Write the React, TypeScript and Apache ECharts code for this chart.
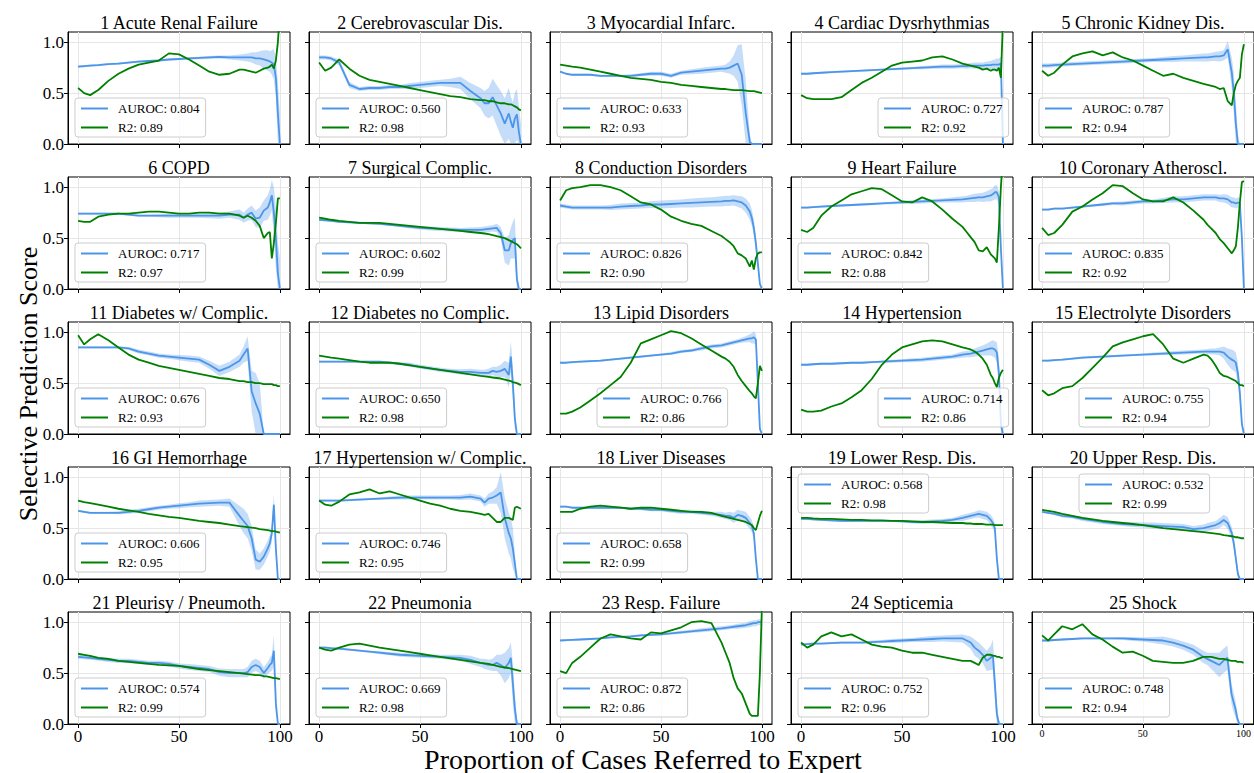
import React, { useEffect, useRef } from "react";
import * as echarts from "echarts";

// ---------------- data ----------------
const X_GRID = [0, 3, 6, 10, 15, 20, 25, 30, 35, 40, 45, 50, 55, 60, 65, 70, 75, 80, 82, 84, 86, 88, 90, 92, 94, 95, 96, 97, 98, 99, 100];
const X_TICKS = [0, 50, 100];
const Y_TICKS = [0, 0.5, 1.0];

const TITLES = [
  "1 Acute Renal Failure", "2 Cerebrovascular Dis.", "3 Myocardial Infarc.", "4 Cardiac Dysrhythmias", "5 Chronic Kidney Dis.",
  "6 COPD", "7 Surgical Complic.", "8 Conduction Disorders", "9 Heart Failure", "10 Coronary Atheroscl.",
  "11 Diabetes w/ Complic.", "12 Diabetes no Complic.", "13 Lipid Disorders", "14 Hypertension", "15 Electrolyte Disorders",
  "16 GI Hemorrhage", "17 Hypertension w/ Complic.", "18 Liver Diseases", "19 Lower Resp. Dis.", "20 Upper Resp. Dis.",
  "21 Pleurisy / Pneumoth.", "22 Pneumonia", "23 Resp. Failure", "24 Septicemia", "25 Shock",
];
const AUROC = ["0.804", "0.560", "0.633", "0.727", "0.787", "0.717", "0.602", "0.826", "0.842", "0.835", "0.676", "0.650", "0.766", "0.714", "0.755", "0.606", "0.746", "0.658", "0.568", "0.532", "0.574", "0.669", "0.872", "0.752", "0.748"];
const R2 = ["0.89", "0.98", "0.93", "0.92", "0.94", "0.97", "0.99", "0.90", "0.88", "0.92", "0.93", "0.98", "0.86", "0.86", "0.94", "0.95", "0.95", "0.99", "0.98", "0.99", "0.99", "0.98", "0.86", "0.96", "0.94"];
const LEGEND_LOC = ["ll", "ll", "ll", "lr", "ll", "ll", "ll", "ll", "ll", "ll", "ll", "ll", "lc", "lr", "lc", "ll", "ll", "ll", "ul", "uc", "ll", "ll", "ll", "ll", "ll"];

const p01Blue = [.76, .765, .77, .775, .785, .79, .80, .81, .815, .82, .83, .835, .84, .845, .85, .855, .85, .85, .85, .85, .85, .84, .84, .83, .82, .81, .80, .78, .65, .30, 0];
const p01Band = [.01, .01, .01, .01, .01, .01, .01, .01, .01, .01, .01, .01, .012, .012, .015, .015, .02, .03, .035, .04, .05, .06, .07, .09, .10, .10, .12, .15, .20, .30, .30];
const p01Green = [.55, .50, .48, .53, .62, .69, .74, .78, .80, .82, .89, .88, .83, .77, .71, .68, .69, .73, .73, .72, .71, .70, .72, .74, .75, .76, .78, .74, .82, 1.0, 1.3];

const p02Blue = [.85, .85, .84, .80, .58, .54, .55, .55, .56, .56, .57, .58, .59, .60, .60, .60, .52, .45, .40, .40, .46, .38, .30, .20, .30, .22, .16, .25, .29, .12, 0];
const p02Band = [.02, .02, .02, .03, .03, .02, .02, .02, .02, .02, .03, .03, .03, .03, .04, .06, .08, .10, .12, .15, .18, .20, .22, .25, .25, .25, .25, .25, .25, .25, .20];
const p02Green = [.80, .72, .75, .83, .74, .67, .63, .61, .59, .57, .55, .53, .51, .49, .47, .46, .44, .43, .43, .42, .42, .41, .40, .40, .39, .39, .38, .37, .36, .34, .33];

const p03Blue = [.71, .69, .68, .68, .68, .67, .67, .67, .67, .68, .69, .69, .67, .70, .71, .72, .73, .74, .74, .75, .77, .79, .68, .30, .02, 0, 0, 0, 0, 0, 0];
const p03Band = [.01, .01, .01, .01, .01, .01, .01, .01, .015, .015, .02, .02, .02, .02, .025, .03, .03, .03, .04, .06, .10, .18, .30, .32, .08, 0, 0, 0, 0, 0, 0];
const p03Green = [.78, .77, .76, .75, .73, .71, .69, .67, .65, .64, .63, .61, .60, .58, .57, .56, .55, .54, .54, .535, .53, .53, .53, .525, .52, .52, .52, .515, .51, .505, .50];

const p04Blue = [.69, .69, .695, .70, .705, .71, .715, .72, .725, .73, .735, .74, .745, .75, .755, .76, .76, .765, .765, .77, .77, .77, .77, .775, .775, .78, .78, .78, .78, .79, 0];
const p04Band = [.01, .01, .01, .01, .01, .01, .01, .01, .01, .01, .01, .012, .012, .015, .015, .02, .02, .02, .025, .025, .03, .03, .03, .035, .04, .045, .05, .06, .06, .07, .07];
const p04Green = [.48, .45, .44, .44, .44, .46, .53, .60, .65, .71, .77, .80, .81, .82, .85, .86, .83, .79, .78, .77, .76, .75, .73, .74, .72, .73, .73, .72, .75, .65, 1.2];

const p05Blue = [.77, .77, .775, .78, .785, .79, .795, .80, .805, .81, .815, .82, .825, .83, .835, .84, .845, .85, .85, .855, .86, .86, .87, .93, .70, .50, .20, 0, 0, 0, 0];
const p05Band = [.02, .02, .02, .02, .02, .02, .02, .02, .02, .02, .02, .02, .02, .025, .03, .03, .035, .04, .04, .04, .045, .05, .05, .08, .15, .20, .20, .10, 0, 0, 0];
const p05Green = [.72, .67, .70, .78, .86, .89, .91, .87, .90, .85, .82, .77, .72, .67, .69, .65, .62, .59, .58, .57, .56, .54, .55, .42, .38, .50, .58, .62, .65, .88, .98];

const p06Blue = [.74, .74, .74, .74, .74, .74, .73, .72, .72, .72, .72, .72, .72, .72, .72, .72, .73, .73, .70, .73, .75, .69, .70, .77, .80, .85, .92, .75, .50, .15, 0];
const p06Band = [.01, .01, .01, .01, .01, .01, .01, .01, .01, .015, .02, .02, .02, .02, .025, .03, .03, .05, .05, .06, .07, .08, .10, .10, .12, .13, .15, .25, .30, .30, .30];
const p06Green = [.67, .66, .66, .71, .73, .74, .74, .75, .76, .76, .75, .74, .74, .75, .75, .74, .74, .72, .70, .72, .70, .67, .62, .50, .55, .56, .30, .45, .65, .89, .89];

const p07Blue = [.68, .675, .67, .66, .655, .65, .645, .64, .63, .62, .61, .60, .595, .59, .585, .58, .58, .58, .585, .59, .595, .60, .55, .38, .38, .45, .48, .50, .10, 0, 0];
const p07Band = [.01, .01, .01, .01, .01, .01, .01, .01, .01, .01, .015, .015, .02, .02, .02, .02, .025, .03, .03, .03, .03, .04, .06, .12, .15, .15, .18, .20, .10, 0, 0];
const p07Green = [.70, .69, .68, .67, .66, .65, .65, .65, .64, .63, .62, .61, .60, .59, .58, .57, .56, .55, .545, .54, .53, .52, .51, .50, .48, .47, .46, .45, .44, .42, .40];

const p08Blue = [.82, .81, .80, .80, .80, .80, .80, .81, .815, .82, .83, .83, .835, .84, .845, .85, .855, .86, .865, .865, .87, .86, .85, .82, .76, .70, .60, .45, .25, .05, 0];
const p08Band = [.02, .02, .02, .02, .02, .02, .025, .03, .03, .03, .035, .04, .04, .04, .045, .045, .045, .05, .05, .05, .05, .055, .06, .07, .08, .08, .08, .08, .05, .02, 0];
const p08Green = [.87, .97, .99, 1.0, 1.02, 1.02, 1.0, .97, .91, .85, .83, .78, .71, .67, .64, .62, .57, .52, .49, .46, .42, .35, .33, .30, .22, .28, .19, .30, .35, .36, .36];

const p09Blue = [.80, .80, .805, .81, .815, .82, .825, .83, .835, .84, .845, .85, .855, .86, .865, .87, .875, .88, .885, .89, .895, .90, .90, .91, .92, .93, .95, .95, .90, .40, 0];
const p09Band = [.01, .01, .01, .01, .01, .01, .01, .01, .01, .01, .012, .015, .02, .02, .02, .02, .025, .03, .03, .035, .04, .04, .045, .05, .06, .06, .07, .07, .06, .05, 0];
const p09Green = [.58, .56, .60, .72, .81, .87, .93, .96, .99, .98, .92, .86, .85, .90, .86, .78, .69, .61, .56, .51, .46, .38, .37, .41, .34, .32, .30, .26, .60, 1.0, 1.3];

const p10Blue = [.78, .78, .79, .79, .80, .81, .82, .83, .84, .84, .85, .86, .86, .87, .88, .88, .89, .90, .90, .90, .90, .89, .89, .88, .85, .85, .84, .85, .84, .50, 0];
const p10Band = [.01, .01, .01, .01, .01, .01, .01, .015, .015, .02, .02, .02, .02, .025, .03, .03, .03, .03, .03, .03, .03, .035, .04, .045, .05, .05, .05, .05, .05, .05, 0];
const p10Green = [.60, .53, .55, .63, .76, .81, .88, .94, 1.02, 1.01, .94, .88, .86, .86, .90, .85, .77, .68, .63, .59, .55, .49, .45, .40, .35, .38, .42, .60, .85, 1.05, 1.06];

const p11Blue = [.85, .85, .85, .85, .85, .85, .84, .81, .79, .77, .76, .75, .74, .73, .68, .62, .66, .72, .78, .84, .42, .30, .20, 0, 0, 0, 0, 0, 0, 0, 0];
const p11Band = [.01, .01, .01, .01, .01, .01, .015, .02, .02, .02, .02, .025, .03, .03, .04, .05, .05, .06, .08, .12, .20, .30, .30, 0, 0, 0, 0, 0, 0, 0, 0];
const p11Green = [.97, .88, .93, .98, .92, .85, .78, .73, .70, .67, .65, .63, .61, .59, .57, .55, .54, .52, .52, .51, .51, .50, .50, .49, .49, .49, .49, .48, .48, .47, .47];

const p12Blue = [.71, .71, .71, .71, .71, .71, .71, .71, .70, .69, .68, .66, .645, .63, .62, .61, .61, .60, .60, .60, .62, .61, .62, .64, .58, .76, .50, .15, 0, 0, 0];
const p12Band = [.01, .01, .01, .01, .01, .01, .01, .01, .015, .015, .02, .02, .02, .02, .02, .025, .03, .03, .03, .04, .04, .05, .06, .08, .12, .15, .15, .10, 0, 0, 0];
const p12Green = [.77, .76, .75, .74, .725, .71, .70, .70, .70, .69, .675, .66, .645, .63, .615, .60, .585, .57, .565, .56, .555, .55, .545, .535, .525, .52, .51, .505, .50, .49, .48];

const p13Blue = [.70, .70, .705, .71, .715, .72, .73, .74, .75, .76, .77, .78, .79, .81, .82, .84, .86, .87, .88, .89, .90, .91, .92, .93, .94, .94, .95, .93, .50, .05, 0];
const p13Band = [.01, .01, .01, .01, .01, .01, .01, .01, .01, .01, .01, .01, .015, .015, .015, .02, .02, .02, .02, .02, .02, .02, .025, .03, .04, .05, .06, .05, .10, .02, 0];
const p13Green = [.20, .20, .22, .26, .33, .40, .48, .56, .70, .89, .93, .97, 1.01, .99, .94, .88, .82, .76, .74, .71, .66, .58, .52, .47, .42, .40, .37, .35, .50, .67, .62];

const p14Blue = [.68, .68, .685, .69, .69, .695, .70, .70, .705, .71, .715, .72, .725, .73, .74, .75, .76, .78, .785, .79, .80, .81, .82, .83, .84, .84, .83, .80, .60, .10, 0];
const p14Band = [.01, .01, .01, .01, .01, .01, .01, .01, .01, .01, .015, .015, .02, .02, .02, .02, .02, .03, .03, .035, .04, .045, .05, .06, .07, .08, .08, .10, .15, .10, 0];
const p14Green = [.24, .22, .22, .23, .27, .30, .36, .43, .54, .68, .78, .85, .88, .91, .92, .91, .88, .85, .84, .83, .81, .78, .74, .68, .58, .55, .50, .46, .55, .60, .63];

const p15Blue = [.72, .72, .725, .73, .74, .75, .755, .76, .765, .77, .775, .78, .785, .79, .795, .80, .805, .81, .81, .81, .81, .81, .80, .76, .73, .72, .70, .60, .40, .10, 0];
const p15Band = [.01, .01, .01, .01, .01, .01, .01, .01, .01, .01, .01, .01, .015, .015, .02, .02, .02, .02, .025, .03, .03, .04, .06, .08, .10, .10, .10, .10, .10, .05, 0];
const p15Green = [.43, .38, .40, .45, .47, .55, .65, .75, .86, .90, .93, .96, .98, .88, .74, .70, .74, .78, .77, .73, .67, .60, .57, .56, .54, .53, .52, .50, .48, .48, .47];

const p16Blue = [.67, .66, .65, .65, .65, .65, .66, .67, .685, .70, .71, .72, .73, .74, .745, .75, .75, .62, .57, .52, .40, .19, .17, .22, .30, .35, .45, .73, .30, 0, 0];
const p16Band = [.01, .01, .01, .01, .01, .015, .02, .02, .02, .02, .02, .025, .025, .03, .03, .03, .04, .10, .12, .12, .12, .10, .08, .08, .08, .08, .08, .10, .10, 0, 0];
const p16Green = [.77, .755, .745, .73, .71, .69, .675, .66, .64, .625, .61, .60, .585, .57, .56, .55, .535, .52, .515, .51, .505, .50, .49, .485, .48, .475, .47, .47, .465, .46, .455];

const p17Blue = [.77, .77, .77, .77, .775, .78, .785, .79, .795, .80, .80, .80, .80, .80, .80, .80, .81, .79, .75, .79, .80, .82, .85, .60, .45, .40, .30, .15, 0, 0, 0];
const p17Band = [.01, .01, .01, .01, .01, .01, .01, .01, .015, .02, .02, .02, .02, .02, .02, .025, .03, .03, .04, .05, .06, .08, .20, .20, .20, .20, .20, .10, 0, 0, 0];
const p17Green = [.77, .73, .72, .76, .83, .85, .88, .84, .86, .83, .80, .77, .74, .72, .69, .67, .66, .64, .63, .64, .60, .56, .56, .60, .60, .59, .58, .70, .71, .70, .69];

const p18Blue = [.71, .71, .70, .70, .70, .70, .70, .70, .69, .69, .68, .68, .67, .66, .66, .65, .64, .63, .62, .62, .60, .63, .62, .60, .55, .52, .45, .20, 0, 0, 0];
const p18Band = [.01, .01, .01, .01, .01, .01, .01, .01, .01, .015, .015, .015, .02, .02, .02, .02, .02, .03, .03, .04, .05, .05, .05, .06, .06, .06, .06, .05, 0, 0, 0];
const p18Green = [.66, .66, .66, .69, .71, .72, .71, .70, .69, .70, .70, .69, .68, .67, .66, .66, .65, .62, .61, .60, .59, .58, .57, .56, .54, .53, .50, .48, .55, .62, .67];

const p19Blue = [.59, .59, .585, .58, .575, .57, .57, .57, .57, .57, .57, .565, .56, .56, .565, .57, .58, .60, .61, .62, .63, .64, .63, .62, .58, .55, .50, .20, 0, 0, 0];
const p19Band = [.01, .01, .01, .01, .01, .01, .01, .01, .01, .01, .01, .01, .015, .02, .02, .02, .02, .03, .03, .03, .03, .035, .04, .04, .05, .05, .05, .05, 0, 0, 0];
const p19Green = [.60, .60, .595, .59, .59, .585, .58, .58, .575, .575, .57, .57, .565, .56, .56, .555, .55, .55, .545, .545, .54, .54, .54, .535, .535, .535, .53, .53, .53, .53, .53];

const p20Blue = [.66, .65, .64, .62, .61, .59, .575, .56, .55, .54, .535, .53, .525, .52, .515, .51, .49, .50, .51, .52, .53, .55, .58, .55, .45, .35, .20, .05, 0, 0, 0];
const p20Band = [.01, .01, .01, .015, .015, .02, .02, .02, .02, .02, .025, .025, .03, .03, .03, .03, .03, .035, .04, .04, .04, .05, .05, .06, .06, .06, .05, .05, 0, 0, 0];
const p20Green = [.68, .67, .66, .64, .62, .60, .585, .57, .56, .55, .54, .53, .515, .50, .49, .48, .47, .46, .455, .45, .445, .44, .43, .425, .42, .415, .41, .41, .405, .40, .40];

const p21Blue = [.66, .655, .65, .64, .63, .62, .62, .61, .60, .60, .59, .57, .56, .55, .54, .51, .50, .50, .50, .51, .56, .58, .56, .50, .55, .58, .60, .72, .20, 0, 0];
const p21Band = [.02, .02, .02, .02, .02, .02, .02, .02, .02, .02, .025, .025, .03, .03, .03, .035, .04, .04, .04, .05, .06, .06, .06, .06, .06, .07, .08, .15, .10, 0, 0];
const p21Green = [.69, .68, .67, .65, .64, .62, .61, .60, .59, .58, .575, .57, .555, .54, .53, .52, .51, .50, .495, .49, .485, .48, .48, .47, .465, .46, .455, .45, .45, .445, .44];

const p22Blue = [.75, .75, .745, .74, .73, .72, .71, .70, .69, .68, .675, .67, .665, .66, .655, .65, .63, .60, .59, .58, .58, .60, .58, .55, .60, .65, .40, .15, 0, 0, 0];
const p22Band = [.01, .01, .01, .01, .01, .01, .01, .015, .015, .02, .02, .02, .02, .02, .025, .03, .04, .04, .05, .05, .06, .08, .10, .15, .15, .15, .20, .15, .05, 0, 0];
const p22Green = [.75, .73, .72, .75, .78, .79, .77, .75, .735, .72, .705, .69, .675, .66, .645, .63, .615, .60, .595, .59, .58, .57, .56, .555, .55, .545, .54, .535, .53, .525, .52];

const p23Blue = [.82, .823, .826, .83, .835, .84, .85, .855, .86, .87, .875, .88, .89, .90, .91, .92, .93, .94, .945, .95, .955, .96, .965, .97, .98, .985, .99, .99, 1.0, 1.0, 1.0];
const p23Band = [.01, .01, .01, .01, .01, .01, .01, .01, .01, .01, .01, .01, .01, .015, .015, .02, .02, .02, .02, .02, .02, .025, .025, .025, .03, .03, .03, .03, .03, .03, .03];
const p23Green = [.52, .50, .60, .66, .75, .84, .88, .86, .84, .83, .90, .89, .92, .95, 1.0, 1.01, .99, .80, .70, .60, .45, .35, .30, .20, .10, .08, .08, .08, .08, .50, 1.15];

const p24Blue = [.78, .785, .79, .79, .795, .80, .80, .80, .805, .81, .815, .82, .825, .83, .835, .84, .84, .84, .82, .80, .75, .72, .68, .62, .65, .68, .40, .10, 0, 0, 0];
const p24Band = [.01, .01, .01, .01, .01, .01, .01, .01, .015, .015, .02, .02, .02, .025, .03, .03, .035, .04, .05, .06, .08, .08, .08, .10, .12, .15, .15, .10, .05, 0, 0];
const p24Green = [.80, .75, .78, .86, .90, .86, .88, .83, .78, .76, .75, .72, .70, .70, .68, .66, .64, .62, .62, .62, .60, .58, .65, .68, .68, .67, .67, .66, .66, .65, .65];

const p25Blue = [.82, .82, .825, .83, .835, .84, .84, .84, .84, .84, .835, .83, .825, .82, .80, .77, .73, .66, .64, .62, .60, .58, .62, .65, .30, .22, .15, .05, 0, 0, 0];
const p25Band = [.01, .01, .01, .01, .01, .01, .01, .01, .01, .015, .02, .02, .03, .04, .04, .04, .05, .06, .06, .08, .10, .12, .12, .12, .10, .10, .08, .05, 0, 0, 0];
const p25Green = [.87, .82, .88, .96, .93, .98, .88, .83, .76, .70, .71, .67, .62, .61, .60, .60, .62, .66, .66, .66, .65, .64, .64, .63, .62, .62, .62, .61, .61, .61, .60];

const BLUE_SERIES = [p01Blue, p02Blue, p03Blue, p04Blue, p05Blue, p06Blue, p07Blue, p08Blue, p09Blue, p10Blue, p11Blue, p12Blue, p13Blue, p14Blue, p15Blue, p16Blue, p17Blue, p18Blue, p19Blue, p20Blue, p21Blue, p22Blue, p23Blue, p24Blue, p25Blue];
const BAND_SERIES = [p01Band, p02Band, p03Band, p04Band, p05Band, p06Band, p07Band, p08Band, p09Band, p10Band, p11Band, p12Band, p13Band, p14Band, p15Band, p16Band, p17Band, p18Band, p19Band, p20Band, p21Band, p22Band, p23Band, p24Band, p25Band];
const GREEN_SERIES = [p01Green, p02Green, p03Green, p04Green, p05Green, p06Green, p07Green, p08Green, p09Green, p10Green, p11Green, p12Green, p13Green, p14Green, p15Green, p16Green, p17Green, p18Green, p19Green, p20Green, p21Green, p22Green, p23Green, p24Green, p25Green];

// ---------------- layout / style ----------------
const FONT = '"Liberation Serif", "Times New Roman", serif';
const COL_LEFT = [68, 309, 550, 791, 1032];
const ROW_TOP = [32, 177, 322, 467, 612];
const PW = 222;
const PH = 112;
const BLUE = "#4c96ea";
const BAND = "rgba(76,150,234,0.32)";
const GREEN = "#008000";
const GRID_COLOR = "#e6e6e6";
const LEG_W = 128;
const LEG_H = 39;

function buildOption() {
  const grid: any[] = [];
  const xAxis: any[] = [];
  const yAxis: any[] = [];
  const series: any[] = [];
  const legend: any[] = [];
  const graphic: any[] = [];

  TITLES.forEach((title, i) => {
    const r = Math.floor(i / 5);
    const c = i % 5;
    const l = COL_LEFT[c];
    const t = ROW_TOP[r];
    grid.push({ left: l, top: t, width: PW, height: PH, show: true, borderColor: "#000", borderWidth: 1, backgroundColor: "transparent" });
    xAxis.push({
      gridIndex: i, type: "value", min: -5, max: 105,
      axisLine: { show: true, onZero: false, lineStyle: { color: "#000", width: 1 } },
      axisTick: { show: true, customValues: X_TICKS, length: 4, lineStyle: { color: "#000" } },
      axisLabel: { show: r === 4, customValues: X_TICKS, fontFamily: FONT, fontSize: i === 24 ? 10 : 17, color: "#000", margin: 4 },
      splitLine: { show: true, lineStyle: { color: GRID_COLOR, width: 1 } },
    });
    yAxis.push({
      gridIndex: i, type: "value", min: 0, max: 1.1,
      axisLine: { show: true, onZero: false, lineStyle: { color: "#000", width: 1 } },
      axisTick: { show: true, customValues: Y_TICKS, length: 4, lineStyle: { color: "#000" } },
      axisLabel: { show: c === 0, customValues: Y_TICKS, fontFamily: FONT, fontSize: 17, color: "#000", margin: 4, formatter: (v: number) => v.toFixed(1) },
      splitLine: { show: true, lineStyle: { color: GRID_COLOR, width: 1 } },
    });

    const blue = BLUE_SERIES[i];
    const band = BAND_SERIES[i];
    const green = GREEN_SERIES[i];
    const bandRows = X_GRID.map((x, k) => [x, Math.max(0, blue[k] - band[k]), blue[k] + band[k]]);
    const blueName = `AUROC: ${AUROC[i]}`;
    const greenName = `R2: ${R2[i]}`;

    series.push({
      type: "custom", xAxisIndex: i, yAxisIndex: i, silent: true, z: 1,
      data: bandRows,
      encode: { x: 0, y: [1, 2] },
      renderItem: (params: any, api: any) => {
        if (params.dataIndex !== 0) return null;
        const pts: number[][] = [];
        for (let k = 0; k < bandRows.length; k++) pts.push(api.coord([bandRows[k][0], bandRows[k][2]]));
        for (let k = bandRows.length - 1; k >= 0; k--) pts.push(api.coord([bandRows[k][0], bandRows[k][1]]));
        const cs = params.coordSys;
        const clipped = echarts.graphic.clipPointsByRect(pts, { x: cs.x, y: cs.y, width: cs.width, height: cs.height });
        return { type: "polygon", shape: { points: clipped }, style: { fill: BAND, stroke: "none" } };
      },
    });
    series.push({
      name: blueName, type: "line", xAxisIndex: i, yAxisIndex: i, symbol: "none", silent: true,
      data: X_GRID.map((x, k) => [x, blue[k]]),
      lineStyle: { color: BLUE, width: 1.8 }, itemStyle: { color: BLUE }, z: 3,
    });
    series.push({
      name: greenName, type: "line", xAxisIndex: i, yAxisIndex: i, symbol: "none", silent: true,
      data: X_GRID.map((x, k) => [x, green[k]]),
      lineStyle: { color: GREEN, width: 1.8 }, itemStyle: { color: GREEN }, z: 4,
    });

    const loc = LEGEND_LOC[i];
    let lx = l + 7;
    if (loc === "lr") lx = l + PW - 7 - LEG_W;
    if (loc === "lc" || loc === "uc") lx = l + PW / 2 - LEG_W / 2;
    const ly = loc[0] === "u" ? t + 7 : t + PH - 7 - LEG_H;
    legend.push({
      show: true, orient: "vertical", left: lx, top: ly, data: [blueName, greenName], selectedMode: false,
      itemWidth: 27, itemHeight: 12, itemGap: 6, padding: [4, 6, 3, 5],
      backgroundColor: "rgba(255,255,255,0.8)", borderColor: "#cccccc", borderWidth: 1, borderRadius: 3,
      itemStyle: { opacity: 0 },
      textStyle: { fontFamily: FONT, fontSize: 13, color: "#000", padding: [0, 0, 0, 5] },
    });

    graphic.push({
      type: "text", x: l + PW / 2, y: t - 9.5, silent: true,
      style: { text: title, font: `18px ${FONT}`, fill: "#000", textAlign: "center", textVerticalAlign: "middle" },
    });
  });

  graphic.push({
    type: "text", x: 643, y: 759, silent: true,
    style: { text: "Proportion of Cases Referred to Expert", font: `28px ${FONT}`, fill: "#000", textAlign: "center", textVerticalAlign: "middle" },
  });
  graphic.push({
    type: "text", x: 28, y: 384, rotation: Math.PI / 2, silent: true,
    style: { text: "Selective Prediction Score", font: `26px ${FONT}`, fill: "#000", textAlign: "center", textVerticalAlign: "middle" },
  });

  return { animation: false, backgroundColor: "#fff", grid, xAxis, yAxis, series, legend, graphic };
}

export default function App() {
  const ref = useRef<HTMLDivElement>(null);
  useEffect(() => {
    const chart = echarts.init(ref.current as HTMLDivElement, undefined, { renderer: "svg" });
    chart.setOption(buildOption() as any);
    return () => chart.dispose();
  }, []);
  return <div ref={ref} style={{ position: "absolute", left: 0, top: 0, width: 1254, height: 773, background: "#fff" }} />;
}
